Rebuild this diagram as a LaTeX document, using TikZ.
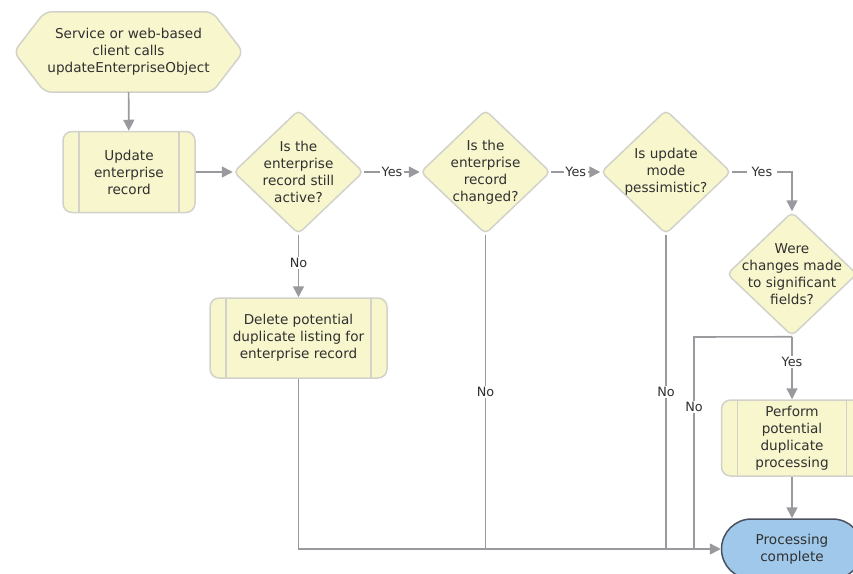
\documentclass[tikz,border=0pt]{standalone}
\usepackage{fontspec}
\setmainfont{DejaVu Sans}
\usetikzlibrary{shapes.geometric,shapes.misc,arrows.meta,backgrounds}
\definecolor{boxfill}{HTML}{F8F6CD}
\definecolor{boxdraw}{HTML}{D2D2CA}
\definecolor{endfill}{HTML}{A0C8EA}
\definecolor{enddraw}{HTML}{4A5260}
\definecolor{linegray}{HTML}{9A9A9E}
\definecolor{txt}{HTML}{303030}
\tikzset{
  txtstyle/.style={font=\fontsize{13.6}{17}\selectfont, text=txt, align=center},
  procbox/.style={txtstyle, draw=boxdraw, fill=boxfill, line width=1.5pt, rounded corners=9pt,
    inner sep=0pt, path picture={
      \draw[boxdraw, line width=1.5pt] ([xshift=16pt]path picture bounding box.north west) -- ([xshift=16pt]path picture bounding box.south west);
      \draw[boxdraw, line width=1.5pt] ([xshift=-16pt]path picture bounding box.north east) -- ([xshift=-16pt]path picture bounding box.south east);
    }},
  decision/.style={diamond, draw=boxdraw, fill=boxfill, line width=1.5pt, rounded corners=5pt, inner sep=0pt},
  dtext/.style={txtstyle, inner sep=0pt},
  line/.style={draw=linegray, line width=1.6pt},
  arr/.style={line, -{Triangle[length=11pt,width=11pt]}},
  lbl/.style={font=\fontsize{12.8}{14}\selectfont, text=txt, fill=white, inner sep=1.5pt},
}
\begin{document}
\begin{tikzpicture}[x=1pt,y=-1pt]
\useasboundingbox (0,0) rectangle (853,573);
\clip (0,0) rectangle (853,573);
% start hexagon
\node[txtstyle, minimum width=229pt, minimum height=80pt, inner sep=0pt] (start) at (128.5,52)
  {Service or web-based\\client calls\\updateEnterpriseObject};
\begin{scope}[on background layer]
\draw[draw=boxdraw, fill=boxfill, line width=1.5pt, rounded corners=7pt]
  (start.west) -- ([xshift=31pt]start.north west) -- ([xshift=-31pt]start.north east)
  -- (start.east) -- ([xshift=-31pt]start.south east) -- ([xshift=31pt]start.south west) -- cycle;
\end{scope}
% update box
\node[procbox, minimum width=132pt, minimum height=81pt] (upd) at (129,172) {Update\\enterprise\\record};
% decisions
\node[decision, minimum width=130pt, minimum height=124pt,
  label={[dtext]center:{Is the\\enterprise\\record still\\active?}}] (d1) at (298.5,172) {};
\node[decision, minimum width=130pt, minimum height=124pt,
  label={[dtext]center:{Is the\\enterprise\\record\\changed?}}] (d2) at (485.5,172) {};
\node[decision, minimum width=130pt, minimum height=124pt,
  label={[dtext]center:{Is update\\mode\\pessimistic?}}] (d3) at (666,172) {};
\node[decision, minimum width=130pt, minimum height=124pt,
  label={[dtext]center:{Were\\changes made\\to significant\\fields?}}] (d4) at (792,274) {};
% delete box
\node[procbox, minimum width=177pt, minimum height=80pt] (del) at (298.5,338)
  {Delete potential\\duplicate listing for\\enterprise record};
% perform box
\node[procbox, minimum width=141pt, minimum height=76pt] (perf) at (792,438)
  {Perform\\potential\\duplicate\\processing};
% end
\node[rounded rectangle, draw=enddraw, fill=endfill, line width=1.5pt, txtstyle,
  minimum width=141pt, minimum height=60pt, inner sep=0pt] (pc) at (792,549) {Processing\\complete};
% connectors
\draw[arr] (start) -- (upd);
\draw[arr] (upd) -- (d1);
\draw[arr] (d1) -- node[lbl]{Yes} (d2);
\draw[arr] (d2) -- node[lbl]{Yes} (d3);
\draw[arr] (d3.east) -| node[lbl, pos=0.25, inner xsep=5pt]{Yes} (d4.north);
\draw[arr] (d1.south) -- node[lbl, pos=0.45]{No} (del.north);
\draw[line] (d2.south) -- node[lbl]{No} (d2.south |- pc.west);
\draw[line] (d3.south) -- node[lbl]{No} (d3.south |- pc.west);
\coordinate (j4) at (694,337);
\draw[line] (d4.south) -- (j4) -- node[lbl, pos=0.33]{No} (j4 |- pc.west);
\draw[arr] (d4.south) -- node[lbl, pos=0.4]{Yes} (perf.north);
\draw[arr] (perf) -- (pc);
\draw[arr] (del.south) |- (pc.west);
\end{tikzpicture}
\end{document}
